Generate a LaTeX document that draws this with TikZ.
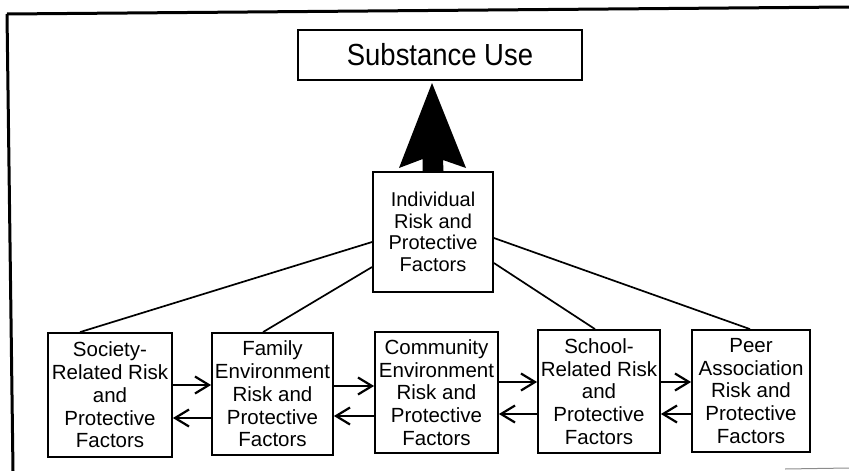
\documentclass[tikz,border=0pt]{standalone}
\usepackage{fontspec}
\setmainfont{Liberation Sans}
\newfontfamily\titlefont[FakeStretch=0.9]{Liberation Sans}
\usetikzlibrary{arrows.meta,calc}
\begin{document}
\begin{tikzpicture}[x=1pt,y=-1pt,
  factorbox/.style={draw,line width=1.8pt,inner sep=0pt,align=center,
    font=\fontsize{20.5}{22.8}\selectfont},
  link/.style={line width=1.7pt},
  fwd/.style={line width=1.9pt,-{Straight Barb[length=14pt,width=17pt,line width=2.2pt]}},
]
\useasboundingbox (0,0) rectangle (849,471);

% outer frame
\draw[line width=3pt] (7,14) -- (849,7);
\draw[line width=3pt] (7,14) -- (13,471);
\draw[line width=1pt,black!45] (785,469) -- (849,468);

% outcome
\node[draw,line width=2.6pt,minimum width=284pt,minimum height=50pt,inner sep=0pt,
  font=\titlefont\fontsize{30.5}{32}\selectfont] (use) at (440,55) {Substance Use};

% individual factors
\node[factorbox,minimum width=120pt,minimum height=120pt,
  font=\fontsize{20}{21.5}\selectfont] (ind) at (433,232)
  {\raisebox{0pt}{Individual}\\Risk and\\Protective\\Factors};

% broad arrow from individual factors to substance use
\fill ([xshift=-10.5pt]ind.north) -- ++(0,-12) -- (399,168) -- (432,83)
  -- (466,168) -- (443,160) -- ([xshift=10.5pt]ind.north) -- cycle;

% contextual factors
\node[factorbox,minimum width=124pt,minimum height=124pt] (soc) at (110,395)
  {Society-\\Related Risk\\and\\Protective\\Factors};
\node[factorbox,minimum width=121pt,minimum height=122pt] (fam) at (272.5,394)
  {Family\\Environment\\Risk and\\Protective\\Factors};
\node[factorbox,minimum width=123pt,minimum height=121pt] (com) at (436.5,392.5)
  {Community\\Environment\\Risk and\\Protective\\Factors};
\node[factorbox,minimum width=122pt,minimum height=123pt] (sch) at (599,391.5)
  {School-\\Related Risk\\and\\Protective\\Factors};
\node[factorbox,minimum width=118pt,minimum height=122pt] (peer) at (751,391)
  {Peer\\Association\\Risk and\\Protective\\Factors};

% links to the individual level
\draw[link] ([xshift=-30pt]soc.north) -- ([yshift=-10pt]ind.west);
\draw[link] ([xshift=-9.5pt]fam.north) -- ([yshift=-35pt]ind.west);
\draw[link] ([xshift=-4pt]sch.north) -- ([yshift=-31pt]ind.east);
\draw[link] ([xshift=-1pt]peer.north) -- ([yshift=-6pt]ind.east);

% reciprocal influences between neighbouring contexts
\draw[fwd] ([yshift=10pt]soc.east) -- ([yshift=9pt]fam.west);
\draw[fwd] ([yshift=-24pt]fam.west) -- ([yshift=-23pt]soc.east);
\draw[fwd] ([yshift=8pt]fam.east) -- ([yshift=6.5pt]com.west);
\draw[fwd] ([yshift=-23.5pt]com.west) -- ([yshift=-22pt]fam.east);
\draw[fwd] ([yshift=10.5pt]com.east) -- ([yshift=9.5pt]sch.west);
\draw[fwd] ([yshift=-22.5pt]sch.west) -- ([yshift=-21.5pt]com.east);
\draw[fwd] ([yshift=9.5pt]sch.east) -- ([yshift=9pt]peer.west);
\draw[fwd] ([yshift=-23pt]peer.west) -- ([yshift=-22.5pt]sch.east);
\end{tikzpicture}
\end{document}
